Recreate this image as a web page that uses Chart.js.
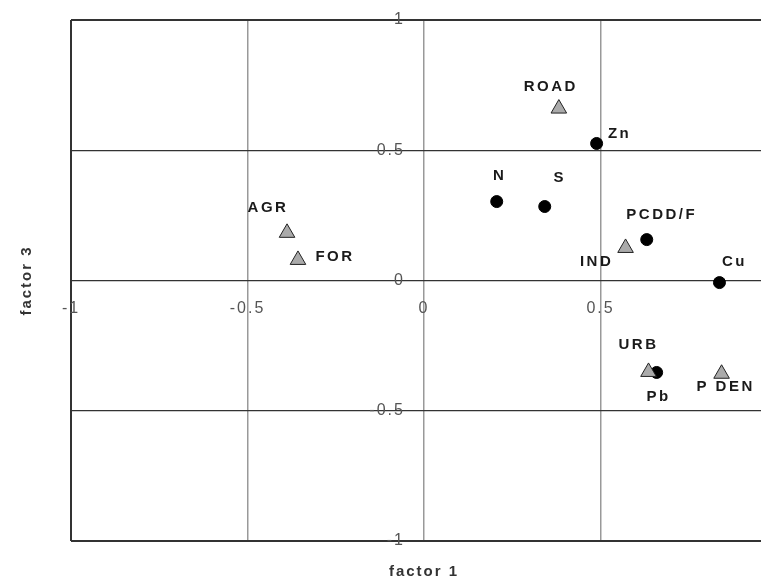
<!DOCTYPE html>
<html>
<head>
<meta charset="utf-8">
<script src="https://cdn.jsdelivr.net/npm/chart.js@4"></script>
<style>
  html, body { margin: 0; padding: 0; background: #fff; overflow: hidden; }
  canvas { display: block; }
</style>
</head>
<body>
<canvas id="chart" width="790" height="581"></canvas>
<script>
// sources (triangles)
const sourceNames = ["ROAD", "AGR", "FOR", "IND", "URB", "P DEN"];
const sourceF1 = [0.382, -0.388, -0.357, 0.571, 0.636, 0.843];
const sourceF3 = [0.660, 0.183, 0.079, 0.125, -0.351, -0.358];

// measured pollutants (dots)
const pollutantNames = ["Zn", "N", "S", "PCDD/F", "Cu", "Pb"];
const pollutantF1 = [0.489, 0.206, 0.342, 0.631, 0.837, 0.659];
const pollutantF3 = [0.526, 0.303, 0.284, 0.157, -0.008, -0.353];

const factorTicks = [-1, -0.5, 0, 0.5, 1];

// where each name sits relative to its marker (px)
const labelOffset = {
  "ROAD": [-8, -22], "AGR": [-19, -25], "FOR": [37, -3], "IND": [-29, 14],
  "URB": [-10, -27], "P DEN": [4, 13],
  "Zn": [23, -10], "N": [3, -26], "S": [15, -29], "PCDD/F": [15, -25],
  "Cu": [15, -21], "Pb": [2, 24]
};

const toPoints = (xs, ys) => xs.map((x, i) => ({ x: x, y: ys[i] }));

const spacing = {
  id: "spacing",
  beforeDraw(chart) { chart.ctx.letterSpacing = "2px"; }
};

const pointNames = {
  id: "pointNames",
  afterDatasetsDraw(chart) {
    const ctx = chart.ctx;
    ctx.save();
    ctx.font = "bold 15px 'Liberation Sans', Arial, sans-serif";
    ctx.letterSpacing = "2.5px";
    ctx.fillStyle = "#1a1a1a";
    ctx.textAlign = "center";
    ctx.textBaseline = "middle";
    chart.data.datasets.forEach((ds, di) => {
      chart.getDatasetMeta(di).data.forEach((el, i) => {
        const name = ds.names[i];
        const off = labelOffset[name] || [0, -20];
        ctx.fillText(name, el.x + off[0], el.y + off[1]);
      });
    });
    ctx.restore();
  }
};

const setTicks = (scale) => {
  scale.ticks = factorTicks.map(v => ({ value: v }));
};

// axes drawn through the origin should not push the plot area inwards
const noPadding = (scale) => {
  scale.paddingTop = 0;
  scale.paddingBottom = 0;
  scale.paddingLeft = 0;
  scale.paddingRight = 0;
};

const tickFont = { family: "'Liberation Sans', Arial, sans-serif", size: 16 };
const titleFont = { family: "'Liberation Sans', Arial, sans-serif", size: 15, weight: "bold", lineHeight: 1.2 };

new Chart(document.getElementById("chart").getContext("2d"), {
  type: "scatter",
  data: {
    datasets: [
      {
        label: "sources",
        names: sourceNames,
        data: toPoints(sourceF1, sourceF3),
        pointStyle: "triangle",
        pointRadius: 9,
        backgroundColor: "#aaaaaa",
        borderColor: "#222",
        borderWidth: 1
      },
      {
        label: "pollutants",
        names: pollutantNames,
        data: toPoints(pollutantF1, pollutantF3),
        pointStyle: "circle",
        pointRadius: 6,
        backgroundColor: "#000",
        borderColor: "#000",
        borderWidth: 1
      }
    ]
  },
  options: {
    responsive: false,
    animation: false,
    events: [],
    layout: { padding: { top: 20, right: 13, left: 0, bottom: 0 } },
    plugins: { legend: { display: false }, tooltip: { enabled: false } },
    scales: {
      x: {
        type: "linear",
        position: { y: 0 },
        min: -1, max: 1,
        afterBuildTicks: setTicks,
        afterFit: noPadding,
        border: { display: false },
        grid: {
          drawTicks: false,
          color: (c) => (c.tick && c.tick.value === -1 ? "#333" : "#999"),
          lineWidth: (c) => (c.tick && c.tick.value === -1 ? 2 : 1.5)
        },
        ticks: {
          padding: 18,
          color: "#555",
          font: tickFont,
          callback: (v) => String(v)
        }
      },
      y: {
        type: "linear",
        // labels sit a little left of the zero line, as in the original
        position: { x: -0.054 },
        min: -1, max: 1,
        afterBuildTicks: setTicks,
        afterFit: noPadding,
        border: { display: false },
        grid: {
          drawTicks: false,
          color: "#333",
          lineWidth: (c) => (c.tick && Math.abs(c.tick.value) === 1 ? 2 : 1.3)
        },
        ticks: {
          padding: 0,
          color: "#555",
          font: tickFont,
          callback: (v) => String(v)
        }
      },
      x2: {
        type: "linear",
        position: "bottom",
        grid: { display: false, drawTicks: false },
        border: { display: false },
        ticks: { display: false },
        title: {
          display: true,
          text: "factor 1",
          color: "#333",
          padding: { top: 22, bottom: 0 },
          font: titleFont
        }
      },
      y2: {
        type: "linear",
        position: "left",
        grid: { display: false, drawTicks: false },
        border: { display: false },
        ticks: { display: false },
        title: {
          display: true,
          text: "factor 3",
          color: "#333",
          padding: { top: 18, bottom: 35 },
          font: titleFont
        }
      }
    }
  },
  plugins: [spacing, pointNames]
});
</script>
</body>
</html>
